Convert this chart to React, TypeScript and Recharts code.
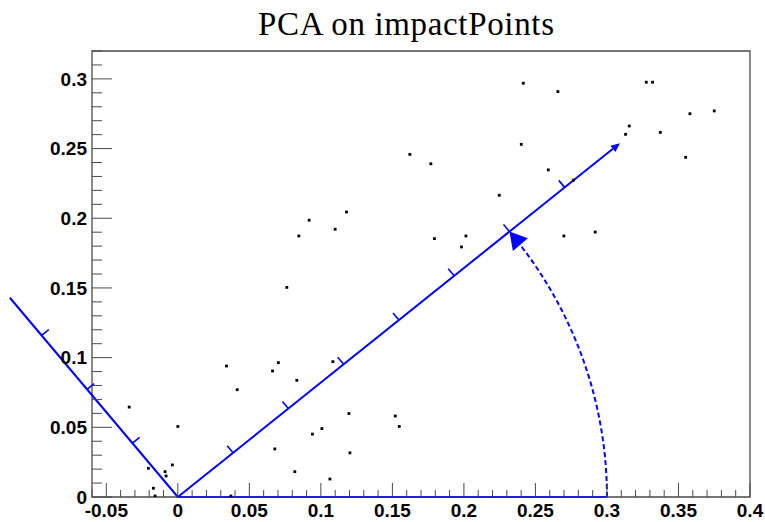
import React from "react";
import { ReferenceArea, ReferenceLine, Scatter, ScatterChart, XAxis, YAxis } from "recharts";

// impact points (x, y)
const pointsX = [
  -0.034, 0.0, 0.034, 0.0415, -0.0206, -0.0089, -0.0082, -0.0038, -0.0171, -0.0159,
  0.0371, 0.0662, 0.0703, 0.0832, 0.1084, 0.1196, 0.152, 0.1548, 0.1007, 0.0941,
  0.0678, 0.1203, 0.0818, 0.1063, 0.1622, 0.1769, 0.2247, 0.1179, 0.0918, 0.11,
  0.0846, 0.1794, 0.2014, 0.1983, 0.0762, 0.2415, 0.2657, 0.3275, 0.3319, 0.358,
  0.375, 0.3156, 0.313, 0.3373, 0.355, 0.2401, 0.259, 0.2766, 0.2699, 0.2918,
];
const pointsY = [
  0.0645, 0.0506, 0.094, 0.077, 0.0206, 0.0182, 0.0151, 0.023, 0.0063, 0.0007,
  0.0007, 0.0904, 0.0964, 0.0837, 0.0971, 0.0599, 0.0581, 0.0506, 0.0491, 0.0451,
  0.0345, 0.0317, 0.0182, 0.0129, 0.2458, 0.2391, 0.2165, 0.2045, 0.1986, 0.1921,
  0.1873, 0.1854, 0.1873, 0.1794, 0.1504, 0.2969, 0.2909, 0.2976, 0.2976, 0.275,
  0.277, 0.2662, 0.2602, 0.2616, 0.2437, 0.253, 0.2347, 0.2273, 0.1873, 0.1901,
];

const xDomain = [-0.06, 0.4];
const yDomain = [0, 0.32];
const minorStep = 0.01;
const majorStep = 0.05;

// principal axes: angle of the first component and drawn axis lengths
const pcaAngleDeg = 39.4;
const pcaAxisLengths = [0.4, 0.185];
const pcaTickStep = 0.05;
const pcaTickLen = 0.0065;
const arcRadius = 0.3;

const BLUE = "#0000ff";
const FRAME = "#4a4a4a";
const FONT = '"Liberation Sans", Arial, Helvetica, sans-serif';

const data = pointsX.map((x, i) => ({ x, y: pointsY[i] }));

const buildTicks = (lo: number, hi: number) => {
  const out: number[] = [];
  for (let i = Math.ceil(lo / minorStep - 1e-9); i <= Math.floor(hi / minorStep + 1e-9); i++) {
    out.push(Number((i * minorStep).toFixed(2)));
  }
  return out;
};
const xTicks = buildTicks(xDomain[0], xDomain[1]);
const yTicks = buildTicks(yDomain[0], yDomain[1]);

const isMajor = (v: number) => Math.abs(v / majorStep - Math.round(v / majorStep)) < 1e-6;
const fmt = (v: number) => String(Number(v.toFixed(2)));

function XTick(props: any) {
  const { x, y, payload } = props;
  const major = isMajor(payload.value);
  return (
    <g>
      <line x1={x} x2={x} y1={y} y2={y - (major ? 14 : 7)} stroke={FRAME} strokeWidth={1} />
      {major && (
        <text x={x} y={y + 20} textAnchor="middle" fontFamily={FONT} fontWeight="bold" fontSize={19} fill="#000">
          {fmt(payload.value)}
        </text>
      )}
    </g>
  );
}

function YTick(props: any) {
  const { x, y, payload } = props;
  const major = isMajor(payload.value);
  return (
    <g>
      <line x1={x} x2={x + (major ? 20 : 10)} y1={y} y2={y} stroke={FRAME} strokeWidth={1} />
      {major && (
        <text x={x - 5} y={y} dy="0.36em" textAnchor="end" fontFamily={FONT} fontWeight="bold" fontSize={19} fill="#000">
          {fmt(payload.value)}
        </text>
      )}
    </g>
  );
}

const Dot = (p: any) => <rect x={p.cx - 1.4} y={p.cy - 1.4} width={2.8} height={2.8} fill="#000" />;

// line with a small filled head at its far end
function ArrowShape(props: any) {
  const { x1, y1, x2, y2 } = props;
  const dx = x2 - x1;
  const dy = y2 - y1;
  const len = Math.hypot(dx, dy);
  const ux = dx / len;
  const uy = dy / len;
  const L = 9;
  const W = 4;
  const bx = x2 - ux * L;
  const by = y2 - uy * L;
  return (
    <g>
      <line x1={x1} y1={y1} x2={bx} y2={by} stroke={BLUE} strokeWidth={2} />
      <polygon points={`${x2},${y2} ${bx - uy * W},${by + ux * W} ${bx + uy * W},${by - ux * W}`} fill={BLUE} />
    </g>
  );
}

// dashed rotation arc: segment spans (0,0)->(r,r) so its ends give the radii in pixels
function ArcShape(props: any) {
  const { x1, y1, x2, y2 } = props;
  const rx = x2 - x1;
  const ry = y1 - y2;
  const a = (pcaAngleDeg * Math.PI) / 180;
  const ex = x1 + rx * Math.cos(a);
  const ey = y1 - ry * Math.sin(a);
  let tx = -rx * Math.sin(a);
  let ty = -ry * Math.cos(a);
  const tl = Math.hypot(tx, ty);
  tx /= tl;
  ty /= tl;
  const L = 17;
  const W = 9.8;
  const bx = ex - tx * L;
  const by = ey - ty * L;
  const a2 = a - L / ((rx + ry) / 2);
  const sx = x1 + rx * Math.cos(a2);
  const sy = y1 - ry * Math.sin(a2);
  return (
    <g>
      <path
        d={`M ${x1 + rx} ${y1} A ${rx} ${ry} 0 0 0 ${sx} ${sy}`}
        fill="none"
        stroke={BLUE}
        strokeWidth={2}
        strokeDasharray="5 3"
      />
      <polygon points={`${ex},${ey} ${bx - ty * W},${by + tx * W} ${bx + ty * W},${by - tx * W}`} fill={BLUE} />
    </g>
  );
}

const a = (pcaAngleDeg * Math.PI) / 180;
const u = { x: Math.cos(a), y: Math.sin(a) };
const v = { x: -Math.sin(a), y: Math.cos(a) };

const tickSegments = (dir: { x: number; y: number }, side: { x: number; y: number }, length: number) => {
  const segs: { x: number; y: number }[][] = [];
  for (let k = 1; k * pcaTickStep < length - 1e-9; k++) {
    const d = k * pcaTickStep;
    const p = { x: dir.x * d, y: dir.y * d };
    segs.push([p, { x: p.x + side.x * pcaTickLen, y: p.y + side.y * pcaTickLen }]);
  }
  return segs;
};
const mainTicks = tickSegments(u, v, pcaAxisLengths[0]);
const secondTicks = tickSegments(v, u, pcaAxisLengths[1]);

export default function App() {
  return (
    <div style={{ position: "absolute", left: 0, top: 0, width: 765, height: 522, background: "#fff" }}>
      <svg width={765} height={48} style={{ position: "absolute", left: 0, top: 0 }}>
        <text x={406} y={35} textAnchor="middle" fontFamily='"Liberation Serif", "Times New Roman", serif' fontSize={33} textLength={296} lengthAdjust="spacing" fill="#000">
          PCA on impactPoints
        </text>
      </svg>
      <ScatterChart width={765} height={522} margin={{ top: 51, right: 15, bottom: 0, left: 0 }} style={{ position: "absolute", left: 0, top: 0 }}>
        <XAxis
          type="number"
          dataKey="x"
          domain={xDomain}
          ticks={xTicks}
          interval={0}
          allowDataOverflow
          height={25}
          axisLine={false}
          tickLine={false}
          tickSize={0}
          tickMargin={0}
          tick={<XTick />}
        />
        <YAxis
          type="number"
          dataKey="y"
          domain={yDomain}
          ticks={yTicks}
          interval={0}
          allowDataOverflow
          width={92}
          axisLine={false}
          tickLine={false}
          tickSize={0}
          tickMargin={0}
          tick={<YTick />}
        />
        <ReferenceArea x1={xDomain[0]} x2={xDomain[1]} y1={yDomain[0]} y2={yDomain[1]} fill="none" stroke={FRAME} strokeWidth={1.3} ifOverflow="visible" />
        <Scatter data={data} shape={<Dot />} isAnimationActive={false} />
        <ReferenceLine segment={[{ x: 0, y: 0 }, { x: arcRadius, y: 0 }]} stroke={BLUE} strokeWidth={1.5} ifOverflow="visible" />
        <ReferenceLine
          segment={[{ x: 0, y: 0 }, { x: u.x * pcaAxisLengths[0], y: u.y * pcaAxisLengths[0] }]}
          stroke={BLUE}
          ifOverflow="visible"
          shape={ArrowShape}
        />
        <ReferenceLine
          segment={[{ x: 0, y: 0 }, { x: v.x * pcaAxisLengths[1], y: v.y * pcaAxisLengths[1] }]}
          stroke={BLUE}
          strokeWidth={2}
          ifOverflow="visible"
        />
        {[...mainTicks, ...secondTicks].map((seg, i) => (
          <ReferenceLine key={i} segment={seg} stroke={BLUE} strokeWidth={1.6} ifOverflow="visible" />
        ))}
        <ReferenceLine
          segment={[{ x: 0, y: 0 }, { x: arcRadius, y: arcRadius }]}
          ifOverflow="visible"
          shape={ArcShape}
        />
      </ScatterChart>
    </div>
  );
}
